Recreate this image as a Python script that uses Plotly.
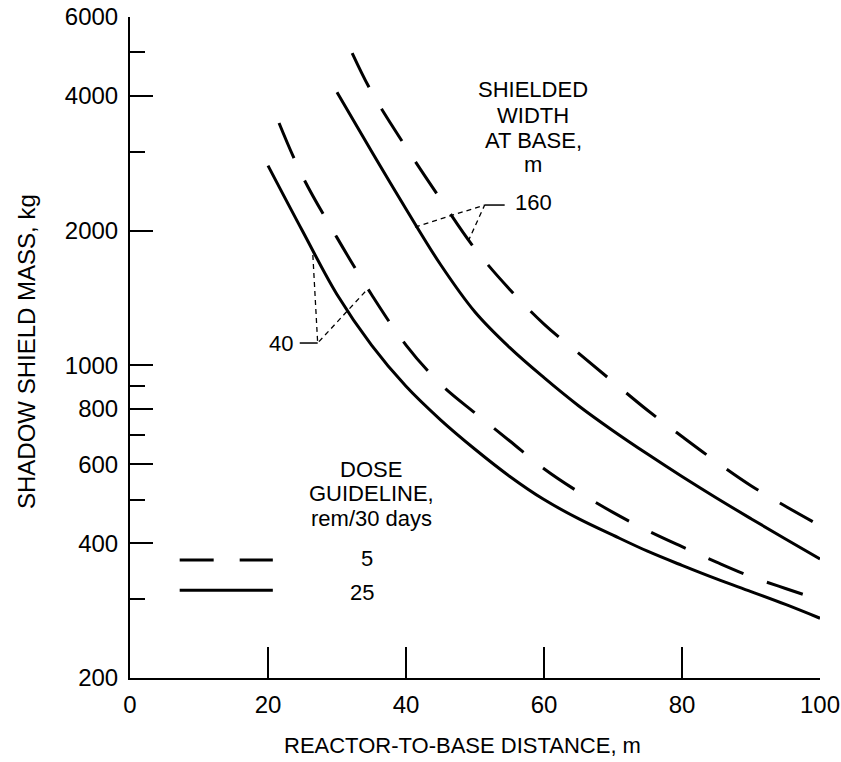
import numpy as np
import plotly.graph_objects as go

FONT = "Liberation Sans, Arial, Helvetica, sans-serif"

# ---------------- data ----------------
# Shielded width 40 m, dose guideline 25 rem/30 days (solid)
x_w40_d25 = [20, 25, 30, 35, 40, 45, 50, 55, 60, 65, 70, 75, 80, 85, 90, 95, 100]
y_w40_d25 = [2793, 1995, 1439, 1109, 897, 755, 649, 565, 501, 454, 417, 384, 357, 333, 312, 292, 272]

# Shielded width 40 m, dose guideline 5 rem/30 days (dashed)
x_w40_d5 = [21.6, 25, 30, 35, 40, 45, 50, 55, 60, 65, 70, 75, 80, 85, 90, 95, 100]
y_w40_d5 = [3477, 2642, 1928, 1439, 1109, 908, 782, 678, 587, 521, 469, 427, 393, 363, 337, 317, 299]

# Shielded width 160 m, dose guideline 25 rem/30 days (solid)
x_w160_d25 = [30, 35, 40, 45, 50, 55, 60, 65, 70, 75, 80, 85, 90, 95, 100]
y_w160_d25 = [4074, 3006, 2234, 1679, 1315, 1096, 938, 812, 714, 633, 564, 505, 454, 409, 369]

# Shielded width 160 m, dose guideline 5 rem/30 days (dashed)
x_w160_d5 = [32.2, 35, 40, 45, 50, 55, 60, 65, 70, 75, 80, 85, 90, 95, 100]
y_w160_d5 = [4984, 4083, 3069, 2350, 1820, 1479, 1236, 1064, 918, 793, 693, 608, 538, 484, 438]

# axis ticks
x_tickvals = [0, 20, 40, 60, 80, 100]
y_tickvals = [200, 400, 600, 800, 1000, 2000, 4000, 6000]
y_minor_tickvals = [300, 500, 700, 900, 3000, 5000]
y_long_tickvals = [1000, 6000]

# leader lines for the width labels (x, y in data units)
lead160_x = [41.3, 51.4, 49.1]
lead160_y = [2036, 2280, 1905]
stub160_x = [51.4, 54.3]
stub160_y = [2280, 2280]
lead40_x = [26.5, 27.2, 34.3]
lead40_y = [1763, 1121, 1472]
stub40_x = [24.6, 27.2]
stub40_y = [1121, 1121]

# legend samples
legend_x = [7.2, 20.7]
legend_y_d5 = [367, 367]
legend_y_d25 = [314, 314]

# ---------------- figure ----------------
fig = go.Figure()

def curve(x, y, dash, width=3):
    fig.add_trace(go.Scatter(
        x=x, y=y, mode="lines",
        line=dict(color="black", width=width, dash=dash, shape="spline", smoothing=1.0),
        showlegend=False, hoverinfo="skip"))

curve(x_w40_d25, y_w40_d25, "solid")
curve(x_w40_d5, y_w40_d5, "38px,25px")
curve(x_w160_d25, y_w160_d25, "solid")
curve(x_w160_d5, y_w160_d5, "38px,25px")

def seg(x, y, dash, width):
    fig.add_trace(go.Scatter(
        x=x, y=y, mode="lines",
        line=dict(color="black", width=width, dash=dash),
        showlegend=False, hoverinfo="skip"))

seg(lead160_x, lead160_y, "5px,4px", 1.3)
seg(stub160_x, stub160_y, "solid", 1.5)
seg(lead40_x, lead40_y, "5px,4px", 1.3)
seg(stub40_x, stub40_y, "solid", 1.5)
seg(legend_x, legend_y_d5, "34px,26px", 3)
seg(legend_x, legend_y_d25, "solid", 3)

L, R, T, B = 130, 21, 17, 84
W, H = 841, 762
PW, PH = W - L - R, H - T - B

def px(xp):
    return (xp - L) / PW

def py(yp):
    return (H - B - yp) / PH

annos = []
def text(t, xp, yp, size=22, xanchor="center", angle=0):
    annos.append(dict(text=t, x=px(xp), y=py(yp), xref="paper", yref="paper",
                      showarrow=False, xanchor=xanchor, yanchor="middle",
                      textangle=angle, font=dict(family=FONT, size=size, color="black")))

text("SHIELDED", 533, 90)
text("WIDTH", 533, 115)
text("AT BASE,", 533, 140)
text("m", 533, 165)
text("160", 533, 203)
text("40", 281, 343)
text("DOSE", 371, 469)
text("GUIDELINE,", 371, 494)
text("rem/30 days", 371, 518)
text("5", 367, 558)
text("25", 362, 592)
text("REACTOR-TO-BASE DISTANCE, m", 462, 745)
text("SHADOW SHIELD MASS, kg", 26, 352, size=24, angle=-90)

shapes = []
for v in y_long_tickvals:
    shapes.append(dict(type="line", xref="paper", yref="y", x0=0, x1=30 / PW,
                       y0=np.log10(v), y1=np.log10(v), line=dict(color="black", width=2)))

fig.update_layout(
    width=W, height=H,
    margin=dict(l=L, r=R, t=T, b=B, autoexpand=False),
    paper_bgcolor="white", plot_bgcolor="white",
    font=dict(family=FONT, size=22, color="black"),
    annotations=annos, shapes=shapes,
    xaxis=dict(range=[0, 100], showgrid=False, zeroline=False, automargin=False,
               showline=True, linecolor="black", linewidth=2,
               ticks="inside", ticklen=31, tickwidth=2, tickcolor="black",
               tickmode="array", tickvals=x_tickvals, ticklabelstandoff=4,
               tickfont=dict(family=FONT, size=24, color="black")),
    yaxis=dict(type="log", range=[np.log10(200), np.log10(6000)],
               showgrid=False, zeroline=False, automargin=False,
               showline=True, linecolor="black", linewidth=2,
               ticks="inside", ticklen=23, tickwidth=2, tickcolor="black",
               tickmode="array", tickvals=y_tickvals, ticklabelstandoff=5,
               ticktext=[str(v) for v in y_tickvals],
               tickfont=dict(family=FONT, size=24, color="black"),
               minor=dict(tickmode="array", tickvals=y_minor_tickvals, ticks="inside",
                          ticklen=15, tickwidth=2, tickcolor="black", showgrid=False)),
)

fig.write_html("out.html")
